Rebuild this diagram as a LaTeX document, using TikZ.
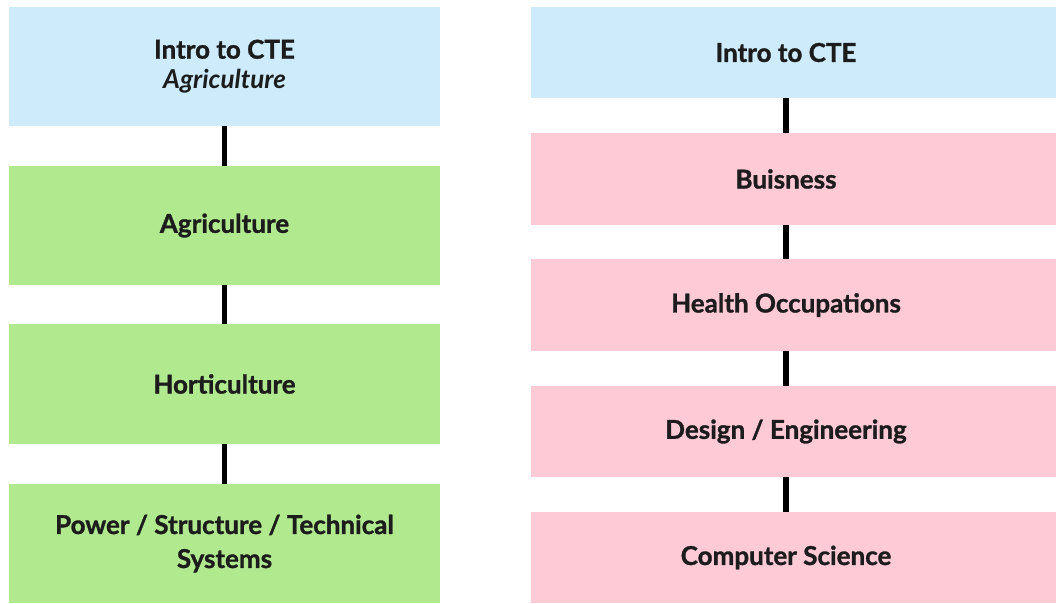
\documentclass[tikz,border=0pt]{standalone}
\usepackage{fontspec}
\setmainfont{Lato}[BoldFeatures={FakeBold=1.2}]
\usepackage{tikz}

\definecolor{introblue}{HTML}{CDEBFB}
\definecolor{agrigreen}{HTML}{B1E98F}
\definecolor{ctepink}{HTML}{FECAD5}
\definecolor{inktext}{HTML}{1C1C1C}

\begin{document}
\begin{tikzpicture}[x=1pt,y=-1pt,
    box/.style={rectangle,inner sep=0pt,align=center,text=inktext,
      font=\fontsize{26}{30}\selectfont\bfseries},
    leftbox/.style={box,minimum width=431pt,minimum height=119pt},
    rightbox/.style={box,minimum width=525pt,minimum height=91pt,
      execute at begin node=\hspace*{-15pt}},
    link/.style={line width=5.5pt,black}]
      \useasboundingbox[fill=white] (0,0) rectangle (1056,603);

      % left column
      \node[leftbox,fill=introblue] (introL) at (224.5,66.5)
        {Intro to CTE\\\textit{Agriculture}};
      \node[leftbox,fill=agrigreen] (agri) at (224.5,225.5) {Agriculture};
      \node[leftbox,fill=agrigreen,minimum height=120pt] (horti) at (224.5,384) {Horticulture};
      \node[leftbox,fill=agrigreen] (power) at (224.5,543.5)
        {Power / Structure / Technical\\[4pt]Systems};

      % right column
      \node[rightbox,fill=introblue] (introR) at (793.5,52.5) {Intro to CTE};
      \node[rightbox,fill=ctepink,minimum height=92pt] (bus) at (793.5,179) {Buisness};
      \node[rightbox,fill=ctepink,minimum height=92pt] (health) at (793.5,305) {Health Occupations};
      \node[rightbox,fill=ctepink] (design) at (793.5,431.5) {Design / Engineering};
      \node[rightbox,fill=ctepink] (comp) at (793.5,557.5) {Computer Science};

      \draw[link] (introL) -- (agri);
      \draw[link] (agri) -- (horti);
      \draw[link] (horti) -- (power);
      \draw[link] ([xshift=-7.5pt]introR.south) -- ([xshift=-7.5pt]bus.north);
      \draw[link] ([xshift=-7.5pt]bus.south) -- ([xshift=-7.5pt]health.north);
      \draw[link] ([xshift=-7.5pt]health.south) -- ([xshift=-7.5pt]design.north);
      \draw[link] ([xshift=-7.5pt]design.south) -- ([xshift=-7.5pt]comp.north);
    \end{tikzpicture}
\end{document}
